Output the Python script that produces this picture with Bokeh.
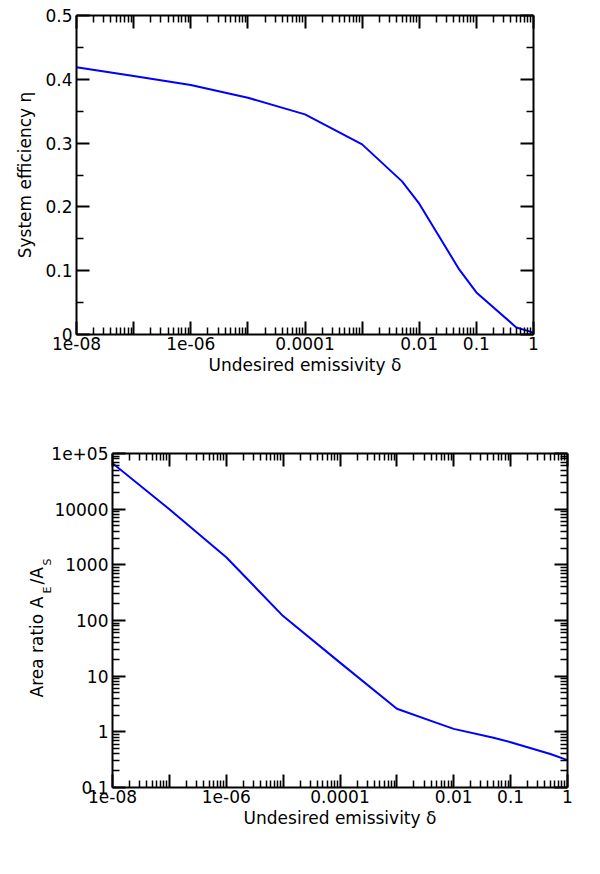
import math
from bokeh.plotting import figure
from bokeh.models import (FixedTicker, LogAxis, LinearAxis, CustomJSTickFormatter,
                          Label, Range1d)
from bokeh.embed import file_html
from bokeh.resources import INLINE

# ---------------- data ----------------
delta = [1e-8, 1e-7, 1e-6, 1e-5, 1e-4, 1e-3, 5e-3, 1e-2, 5e-2, 0.1, 0.5, 1.0]
efficiency = [0.419, 0.405, 0.391, 0.371, 0.345, 0.298, 0.240, 0.205, 0.102, 0.066, 0.011, 0.003]
area_ratio = [6.7e4, 1.0e4, 1370, 120, 17.5, 2.6, 1.45, 1.13, 0.78, 0.65, 0.40, 0.31]

x_major = [1e-8, 1e-7, 1e-6, 1e-5, 1e-4, 1e-3, 1e-2, 1e-1, 1.0]
x_labels = ["1e-08", "", "1e-06", "", "0.0001", "", "0.01", "0.1", "1"]

eff_major = [0.0, 0.1, 0.2, 0.3, 0.4, 0.5]
eff_minor = [0.05, 0.15, 0.25, 0.35, 0.45]
eff_labels = ["0", "0.1", "0.2", "0.3", "0.4", "0.5"]

ar_major = [0.1, 1, 10, 100, 1000, 10000, 1e5]
ar_labels = ["0.1", "1", "10", "100", "1000", "10000", "1e+05"]

x_title = "Undesired emissivity δ"
y1_title = "System efficiency η"
y2_title_parts = ["Area ratio A", "E", "/A", "S"]   # A_E / A_S

FONT = "DejaVu Sans"
FS = "17px"
LINE_COLOR = "#0000ff"

# frame geometry (pixels)
P1_LEFT, P1_TOP, P1_W, P1_H = 76, 15, 457, 319
P2_LEFT, P2_W, P2_H = 112, 455, 334
P1_BOTTOM_BORDER = 60
P2_FRAME_TOP = 453
P2_TOP_BORDER = P2_FRAME_TOP - (P1_TOP + P1_H + P1_BOTTOM_BORDER)


def log_minors(majors):
    out = []
    for m in majors[:-1]:
        for k in range(2, 10):
            out.append(m * k)
    return out


def fmt(tv, tl):
    return CustomJSTickFormatter(args=dict(tv=tv, tl=tl), code="""
        for (let i = 0; i < tv.length; i++) {
            if (Math.abs(tick - tv[i]) <= 1e-6 * Math.abs(tv[i]) + 1e-15) return tl[i];
        }
        return "";
    """)


def style_axis(ax, labels=True):
    ax.axis_line_width = 2
    ax.axis_line_color = "black"
    ax.major_tick_in = 13
    ax.major_tick_out = 0
    ax.minor_tick_in = 7
    ax.minor_tick_out = 0
    ax.major_tick_line_width = 2
    ax.minor_tick_line_width = 1.5
    ax.major_tick_line_color = "black"
    ax.minor_tick_line_color = "black"
    ax.major_label_text_font = FONT
    ax.axis_label_text_font = FONT
    ax.axis_label_text_font_style = "normal"
    ax.axis_label_text_font_size = FS
    ax.axis_label_text_color = "black"
    ax.major_label_text_color = "black"
    if labels:
        ax.major_label_text_font_size = FS
    else:
        ax.major_label_text_font_size = "0px"
        ax.major_label_standoff = 0


x_ticker = FixedTicker(ticks=x_major, minor_ticks=log_minors(x_major))
x_fmt = fmt(x_major, x_labels)

# ---------------- top figure ----------------
p1 = figure(x_axis_type="log", x_range=Range1d(1e-8, 1.0), y_range=Range1d(0, 0.5),
            frame_width=P1_W, frame_height=P1_H,
            min_border_left=P1_LEFT, min_border_right=20, min_border_top=P1_TOP,
            min_border_bottom=P1_BOTTOM_BORDER,
            output_backend="svg", toolbar_location=None)
p1.outline_line_color = None
p1.grid.visible = False
p1.line(delta, efficiency, line_color=LINE_COLOR, line_width=2)

y1_ticker = FixedTicker(ticks=eff_major, minor_ticks=eff_minor)
p1.xaxis.ticker = x_ticker
p1.xaxis.formatter = x_fmt
p1.yaxis.ticker = y1_ticker
p1.yaxis.formatter = fmt(eff_major, eff_labels)
p1.xaxis.axis_label = x_title
p1.yaxis.axis_label = y1_title
for ax in p1.xaxis:
    style_axis(ax)
    ax.major_label_standoff = 2
    ax.axis_label_standoff = 2
for ax in p1.yaxis:
    style_axis(ax)
    ax.major_label_standoff = 4
    ax.axis_label_standoff = 7

top1 = LogAxis(ticker=x_ticker, formatter=x_fmt)
style_axis(top1, labels=False)
p1.add_layout(top1, "above")
right1 = LinearAxis(ticker=y1_ticker, formatter=fmt(eff_major, eff_labels))
style_axis(right1, labels=False)
p1.add_layout(right1, "right")

# ---------------- bottom figure ----------------
p2 = figure(x_axis_type="log", y_axis_type="log",
            x_range=Range1d(1e-8, 1.0), y_range=Range1d(0.1, 1e5),
            frame_width=P2_W, frame_height=P2_H,
            min_border_left=P2_LEFT, min_border_right=15, min_border_top=P2_TOP_BORDER,
            min_border_bottom=60,
            output_backend="svg", toolbar_location=None)
p2.outline_line_color = None
p2.grid.visible = False
p2.line(delta, area_ratio, line_color=LINE_COLOR, line_width=2)

y2_ticker = FixedTicker(ticks=ar_major, minor_ticks=log_minors(ar_major))
p2.xaxis.ticker = x_ticker
p2.xaxis.formatter = x_fmt
p2.yaxis.ticker = y2_ticker
p2.yaxis.formatter = fmt(ar_major, ar_labels)
p2.xaxis.axis_label = x_title
for ax in p2.xaxis:
    style_axis(ax)
    ax.major_label_standoff = 2
    ax.axis_label_standoff = 2
for ax in p2.yaxis:
    style_axis(ax)
    ax.major_label_standoff = 4

top2 = LogAxis(ticker=x_ticker, formatter=x_fmt)
style_axis(top2, labels=False)
p2.add_layout(top2, "above")
right2 = LogAxis(ticker=y2_ticker, formatter=fmt(ar_major, ar_labels))
style_axis(right2, labels=False)
p2.add_layout(right2, "right")


# y title with subscripts: anchor positions in figure pixels, converted to the
# bottom plot's data space. Placed in the (blank) lower side panel so they are
# not clipped to the frame and do not shift the frame's left edge.
def px_to_x2(px):
    return 10 ** (-8 + 8 * (px - P2_LEFT) / P2_W)


def py_to_y2(py):
    return 10 ** (5 - 6 * (py - P2_FRAME_TOP) / P2_H)


ang = math.pi / 2
anchors = [  # baseline x (px), start y (px), font px
    (36, 697, 17),
    (47, 593, 11),
    (36, 584, 17),
    (47, 565, 11),
]
for txt, (bx, sy, fs) in zip(y2_title_parts, anchors):
    p2.add_layout(Label(x=px_to_x2(bx), y=py_to_y2(sy),
                        text=txt, angle=ang, text_align="left", text_baseline="alphabetic",
                        text_font=FONT, text_font_size=f"{fs}px", text_color="black"),
                  "below")

open("out.html", "w").write(file_html([p1, p2], INLINE))
